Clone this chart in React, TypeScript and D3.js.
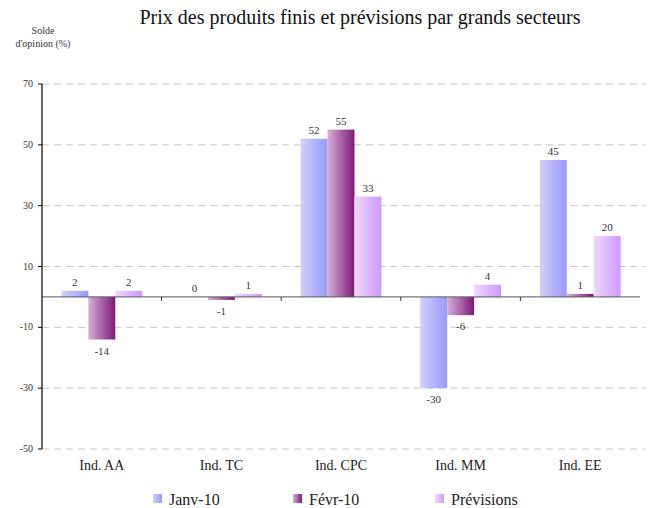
import * as d3 from "d3";

const width = 653;
const height = 508;

const categories = ["Ind. AA", "Ind. TC", "Ind. CPC", "Ind. MM", "Ind. EE"];
const seriesNames = ["Janv-10", "Févr-10", "Prévisions"];
const janv = [2, 0, 52, -30, 45];
const fevr = [-14, -1, 55, -6, 1];
const previsions = [2, 1, 33, 4, 20];
const yTicks = [70, 50, 30, 10, -10, -30, -50];

const gradients = [
  { id: "g0", from: "#d0d0ff", to: "#9a9af8" },
  { id: "g1", from: "#d8b0d8", to: "#7a1a78" },
  { id: "g2", from: "#f0d8ff", to: "#cc99ff" },
];

const margin = { left: 42, right: 13, top: 84, bottom: 59 };
const font = "Liberation Serif, serif";

const App = () => {
  const values = [janv, fevr, previsions];

  const x = d3
    .scaleBand()
    .domain(categories)
    .range([margin.left, width - margin.right]);
  const x1 = d3
    .scaleBand()
    .domain(seriesNames)
    .range([0, x.bandwidth()])
    .paddingOuter(0.72);
  const y = d3
    .scaleLinear()
    .domain([-50, 70])
    .range([height - margin.bottom, margin.top]);

  const x0 = margin.left;
  const xEnd = width - margin.right;

  return (
    <svg width={width} height={height} style={{ position: "absolute", left: 0, top: 0, fontFamily: font }}>
      <defs>
        {gradients.map(g => (
          <linearGradient key={g.id} id={g.id} x1="0" x2="1" y1="0" y2="0">
            <stop offset="0%" stopColor={g.from} />
            <stop offset="100%" stopColor={g.to} />
          </linearGradient>
        ))}
      </defs>
      <rect width={width} height={height} fill="#fff" />
      <text x={360} y={24} textAnchor="middle" fontSize={20} fill="#111">
        Prix des produits finis et prévisions par grands secteurs
      </text>
      <text x={43} y={34} textAnchor="middle" fontSize={10} fill="#333">
        Solde
      </text>
      <text x={43} y={47} textAnchor="middle" fontSize={10} fill="#333">
        d'opinion (%)
      </text>

      {yTicks.map(t => (
        <g key={t}>
          <line x1={x0} x2={xEnd + 5} y1={y(t)} y2={y(t)} stroke="#c8c8c8" strokeDasharray="7,5" />
          <line x1={x0 - 4} x2={x0} y1={y(t)} y2={y(t)} stroke="#000" />
          <text x={x0 - 9} y={y(t) + 3} textAnchor="end" fontSize={10} fill="#333">
            {t}
          </text>
        </g>
      ))}

      {categories.map((c, i) => (
        <g key={c}>
          {values.map((vals, s) => {
            const v = vals[i];
            const bx = (x(c) ?? 0) + (x1(seriesNames[s]) ?? 0);
            const top = y(Math.max(v, 0));
            const h = Math.abs(y(v) - y(0));
            return (
              <g key={s}>
                <rect x={bx} y={top} width={x1.bandwidth()} height={h} fill={`url(#${gradients[s].id})`} />
                <text
                  x={bx + x1.bandwidth() / 2}
                  y={v >= 0 ? y(v) - 5 : y(v) + 15}
                  textAnchor="middle"
                  fontSize={11}
                  fill="#333"
                >
                  {v}
                </text>
              </g>
            );
          })}
          <text
            x={(x(c) ?? 0) + x.bandwidth() / 2}
            y={470}
            textAnchor="middle"
            fontSize={14}
            fill="#222"
          >
            {c}
          </text>
        </g>
      ))}

      <line x1={x0} x2={xEnd} y1={y(0)} y2={y(0)} stroke="#555" />
      {categories.slice(1).map(c => (
        <line key={c} x1={x(c)} x2={x(c)} y1={y(0)} y2={y(0) + 4} stroke="#333" />
      ))}
      <line x1={x0} x2={x0} y1={y(70)} y2={y(-50)} stroke="#000" strokeWidth={1.2} />

      {seriesNames.map((s, i) => {
        const lx = [153, 293, 435][i];
        return (
          <g key={s}>
            <rect x={lx} y={494} width={9} height={9} fill={`url(#${gradients[i].id})`} />
            <text x={lx + 16} y={505} fontSize={16} fill="#222">
              {s}
            </text>
          </g>
        );
      })}
    </svg>
  );
};

export default App;
